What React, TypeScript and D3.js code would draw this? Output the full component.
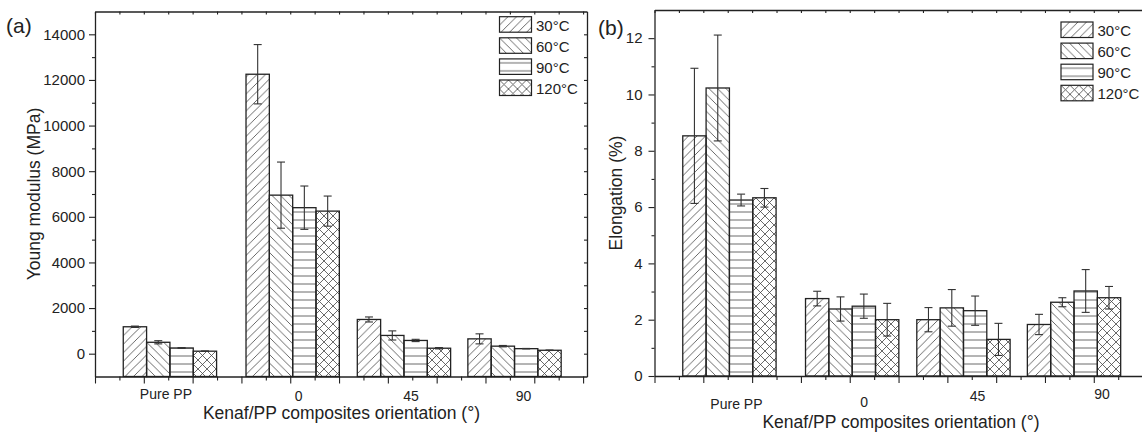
import React, { useEffect, useRef } from "react";
import * as d3 from "d3";

// categories
const orientations = ["Pure PP", "0", "45", "90"];
// x column used for the groups in the original worksheet (axis units)
const orientationX = [3.07, 8.1, 12.66, 17.19];
const temperatures = ["30", "60", "90", "120"];

// (a) Young modulus, MPa
const modulus30 = [1180, 12250, 1500, 650];
const modulus60 = [500, 6950, 800, 330];
const modulus90 = [250, 6400, 580, 220];
const modulus120 = [110, 6250, 240, 150];
const modulusErr30 = [30, 1300, 110, 220];
const modulusErr60 = [70, 1450, 200, 30];
const modulusErr90 = [15, 950, 50, 10];
const modulusErr120 = [10, 660, 30, 10];

// (b) Elongation, %
const elong30 = [8.53, 2.75, 2.0, 1.83];
const elong60 = [10.23, 2.38, 2.42, 2.62];
const elong90 = [6.25, 2.48, 2.32, 3.02];
const elong120 = [6.33, 2.0, 1.3, 2.78];
const elongErr30 = [2.4, 0.26, 0.43, 0.36];
const elongErr60 = [1.88, 0.43, 0.65, 0.16];
const elongErr90 = [0.21, 0.43, 0.52, 0.76];
const elongErr120 = [0.33, 0.58, 0.57, 0.4];

const modulusTicks = [0, 2000, 4000, 6000, 8000, 10000, 12000, 14000];
const elongTicks = [0, 2, 4, 6, 8, 10, 12];

const FONT = "'Liberation Sans', Arial, sans-serif";
const INK = "#222";
const patternIds = ["hatch30", "hatch60", "hatch90", "hatch120"];
const BAR_W = 0.956; // in x-axis units

type PanelProps = {
  tag: string;
  left: number;
  top: number;
  bottom: number;
  yDomain: [number, number];
  yTicks: number[];
  yMinor: number[];
  yTitle: string;
  yTitleX: number;
  tickPad: number;
  values: number[][];
  errors: number[][];
  labelDx: number[];
  labelY: number[];
  titleY: number;
  tagX: number;
  tagY: number;
  legendX: number;
  legendY: number;
};

const Panel = (p: PanelProps) => {
  const axisRef = useRef<SVGGElement>(null);
  const width = 492;
  const right = p.left + width;
  const x = d3.scaleLinear().domain([0, 20.16]).range([p.left, right]);
  const y = d3.scaleLinear().domain(p.yDomain).range([p.bottom, p.top]);

  useEffect(() => {
    const g = d3.select(axisRef.current);
    g.selectAll("*").remove();
    const xMajor = d3.range(0, 21, 2);
    const xMinor = d3.range(1, 21, 2);

    const style = (sel: any) => {
      sel.selectAll("path").attr("stroke", INK).attr("stroke-width", 1.3);
      sel.selectAll("line").attr("stroke", INK).attr("stroke-width", 1.1);
      sel.selectAll("text").attr("fill", INK).style("font-family", FONT).style("font-size", "15px");
    };

    // left
    g.append("g").attr("transform", `translate(${p.left},0)`)
      .call(d3.axisLeft(y).tickValues(p.yTicks).tickSize(6).tickSizeOuter(0).tickPadding(p.tickPad)
        .tickFormat((d: any) => String(d)))
      .call(style);
    g.append("g").attr("transform", `translate(${p.left},0)`)
      .call(d3.axisLeft(y).tickValues(p.yMinor).tickSize(3).tickFormat(() => ""))
      .call((s: any) => s.select(".domain").remove()).call(style);
    // right
    g.append("g").attr("transform", `translate(${right},0)`)
      .call(d3.axisLeft(y).tickValues([...p.yTicks, ...p.yMinor]).tickSize(3).tickSizeOuter(0).tickFormat(() => ""))
      .call(style);
    // bottom
    g.append("g").attr("transform", `translate(0,${p.bottom})`)
      .call(d3.axisBottom(x).tickValues(xMajor).tickSize(7).tickSizeOuter(0).tickFormat(() => ""))
      .call(style);
    g.append("g").attr("transform", `translate(0,${p.bottom})`)
      .call(d3.axisBottom(x).tickValues(xMinor).tickSize(4).tickFormat(() => ""))
      .call((s: any) => s.select(".domain").remove()).call(style);
    // top
    g.append("g").attr("transform", `translate(0,${p.top})`)
      .call(d3.axisBottom(x).tickValues([...xMajor, ...xMinor]).tickSize(3).tickSizeOuter(0).tickFormat(() => ""))
      .call(style);
  }, []);

  return (
    <g>
      {p.values.map((series, si) =>
        series.map((v, ci) => {
          const x0 = x(orientationX[ci] + (si - 2) * BAR_W);
          const x1 = x(orientationX[ci] + (si - 1) * BAR_W);
          const cx = (x0 + x1) / 2;
          const e = p.errors[si][ci];
          return (
            <g key={`${si}-${ci}`}>
              <rect x={x0} y={y(v)} width={x1 - x0} height={p.bottom - y(v)}
                fill={`url(#${patternIds[si]})`} stroke={INK} strokeWidth={1.3} />
              <g stroke="#333" strokeWidth={1.1}>
                <line x1={cx} x2={cx} y1={y(v + e)} y2={y(v - e)} />
                <line x1={cx - 4} x2={cx + 4} y1={y(v + e)} y2={y(v + e)} />
                <line x1={cx - 4} x2={cx + 4} y1={y(v - e)} y2={y(v - e)} />
              </g>
            </g>
          );
        })
      )}
      <g ref={axisRef} />
      {orientations.map((o, i) => (
        <text key={o} x={x(orientationX[i]) + p.labelDx[i]} y={p.labelY[i]} textAnchor="middle"
          fontFamily={FONT} fontSize={14} fill={INK}>{o}</text>
      ))}
      <text x={x(10.1)} y={p.titleY} textAnchor="middle" fontFamily={FONT} fontSize={17.5} fill={INK}>
        Kenaf/PP composites orientation (°)
      </text>
      <text transform={`translate(${p.yTitleX},${(p.top + p.bottom) / 2}) rotate(-90)`} textAnchor="middle"
        fontFamily={FONT} fontSize={17.5} fill={INK}>{p.yTitle}</text>
      <text x={p.tagX} y={p.tagY} fontFamily={FONT} fontSize={21} fill={INK}>{p.tag}</text>
      {temperatures.map((t, i) => (
        <g key={t} transform={`translate(${p.legendX},${p.legendY + i * 21.1})`}>
          <rect x={0} y={0} width={32} height={15.5} fill={`url(#${patternIds[i]})`} stroke={INK} strokeWidth={1.2} />
          <text x={36.5} y={14} fontFamily={FONT} fontSize={15} fill={INK}>{t}°C</text>
        </g>
      ))}
    </g>
  );
};

const App = () => {
  const hatch = "#444";
  return (
    <svg width={1142} height={432} style={{ position: "absolute", left: 0, top: 0, background: "#fff" }}>
      <defs>
        <pattern id="hatch30" patternUnits="userSpaceOnUse" width={8.5} height={8.5}>
          <path d="M-2,2 l4,-4 M0,8.5 l8.5,-8.5 M6.5,10.5 l4,-4" stroke={hatch} strokeWidth={0.8} />
        </pattern>
        <pattern id="hatch60" patternUnits="userSpaceOnUse" width={8.5} height={8.5}>
          <path d="M-2,6.5 l4,4 M0,0 l8.5,8.5 M6.5,-2 l4,4" stroke={hatch} strokeWidth={0.8} />
        </pattern>
        <pattern id="hatch90" patternUnits="userSpaceOnUse" width={8} height={8}>
          <path d="M0,4 h8" stroke={hatch} strokeWidth={0.8} />
        </pattern>
        <pattern id="hatch120" patternUnits="userSpaceOnUse" width={9} height={9}>
          <path d="M0,0 l9,9 M-2,7 l4,4 M7,-2 l4,4 M0,9 l9,-9 M-2,2 l4,-4 M7,11 l4,-4" stroke={hatch} strokeWidth={0.8} />
        </pattern>
      </defs>
      <Panel tag="(a)" left={95} top={11.5} bottom={376.5} yDomain={[-1000, 15000]}
        yTicks={modulusTicks} yMinor={d3.range(1000, 15000, 2000)} yTitle="Young modulus (MPa)" yTitleX={39.5}
        tickPad={4}
        values={[modulus30, modulus60, modulus90, modulus120]}
        errors={[modulusErr30, modulusErr60, modulusErr90, modulusErr120]}
        labelDx={[-4, 6, 7, 9]} labelY={[398.5, 400.5, 400.5, 400.5]} titleY={418.5}
        tagX={6} tagY={33} legendX={499.5} legendY={16.7} />
      <Panel tag="(b)" left={654.5} top={10} bottom={376} yDomain={[0, 13]}
        yTicks={elongTicks} yMinor={d3.range(1, 13, 2)} yTitle="Elongation (%)" yTitleX={622}
        tickPad={6}
        values={[elong30, elong60, elong90, elong120]}
        errors={[elongErr30, elongErr60, elongErr90, elongErr120]}
        labelDx={[7, 12, 14, 28]} labelY={[409, 407, 401, 399]} titleY={428}
        tagX={598} tagY={34.5} legendX={1061} legendY={22} />
    </svg>
  );
};

export default App;
